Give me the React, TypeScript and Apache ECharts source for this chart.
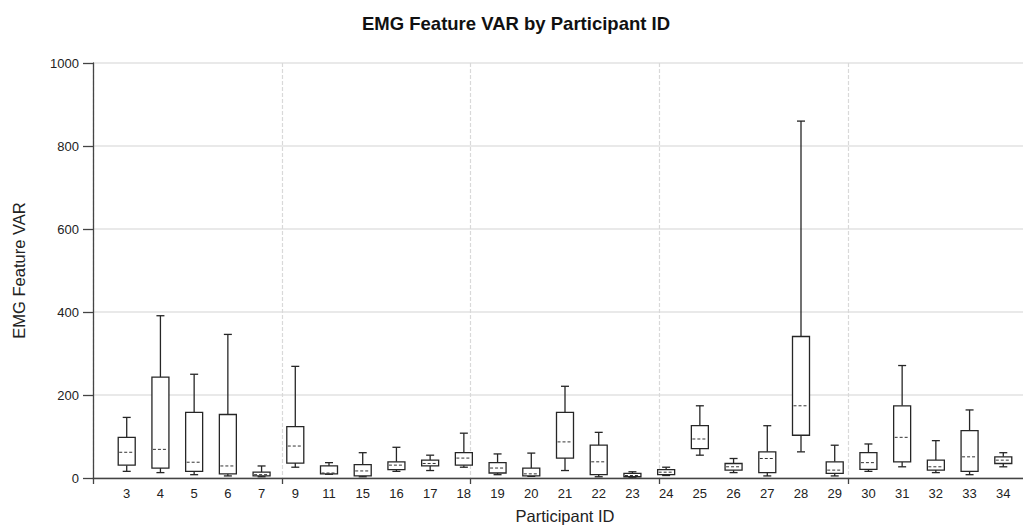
import React, { useEffect, useRef } from "react";
import * as echarts from "echarts";

const categories = ["3","4","5","6","7","9","11","15","16","17","18","19","20","21","22","23","24","25","26","27","28","29","30","31","32","33","34"];
const mins    = [16, 13,  8,   5,  3,  26,  9,  3, 16, 18, 26,  8,  4,  18,  3,  2,  6,  55, 13,   5,  63,  5, 16,  27, 13,   8, 27];
const q1s     = [31, 24, 16,  10,  5,  36, 10,  5, 20, 29, 31, 12,  5,  48,  8,  3,  8,  71, 19,  13, 103, 11, 21,  39, 19,  16, 35];
const medians = [62, 69, 38,  29,  8,  77, 12, 17, 31, 35, 48, 24, 10,  87, 39,  6, 14,  94, 27,  47, 174, 19, 37,  98, 27,  51, 43];
const q3s     = [98, 243, 158, 153, 14, 124, 29, 32, 39, 43, 61, 37, 24, 158, 79, 11, 20, 126, 35,  63, 341, 39, 61, 174, 43, 114, 51];
const maxs    = [146, 391, 250, 346, 29, 269, 37, 61, 74, 55, 108, 58, 60, 221, 110, 15, 26, 174, 47, 126, 860, 79, 82, 271, 90, 164, 61];
const yTicks = { min: 0, max: 1000, interval: 200 };
const titleText = "EMG Feature VAR by Participant ID";

export default function App() {
  const ref = useRef<HTMLDivElement>(null);
  useEffect(() => {
    if (!ref.current) return;
    const chart = echarts.init(ref.current, null, { renderer: "svg" });
    const axisCats = ["", ...categories, ""];
    const data = categories.map((_, i) => [i + 1, mins[i], q1s[i], medians[i], q3s[i], maxs[i]]);
    const stroke = "#262626";
    const font = "'Liberation Sans', Arial, sans-serif";
    chart.setOption({
      animation: false,
      backgroundColor: "#ffffff",
      graphic: [
        {
          type: "text",
          x: 516,
          y: 14,
          style: {
            text: titleText,
            fontFamily: font,
            fontSize: 18.5,
            fontWeight: "bold",
            fill: "#111",
            align: "center",
            verticalAlign: "top",
          },
        },
      ],
      grid: { left: 93, top: 63, right: 3, bottom: 45 },
      xAxis: [
        {
          type: "category",
          data: axisCats,
          boundaryGap: false,
          axisLine: { show: false },
          axisTick: { show: false },
          splitLine: { show: false },
          axisLabel: { interval: 0, margin: 9, fontFamily: font, fontSize: 13, color: "#222" },
          name: "Participant ID",
          nameLocation: "middle",
          nameGap: 29,
          nameTextStyle: { fontFamily: font, fontSize: 16.5, color: "#222" },
        },
        {
          type: "value",
          position: "bottom",
          min: 0,
          max: 28,
          interval: 5.6,
          axisLabel: { show: false },
          axisLine: { show: true, onZero: false, lineStyle: { color: "#444", width: 1.3 } },
          axisTick: { show: true, length: 6, lineStyle: { color: "#444", width: 1.3 } },
          splitLine: { show: true, lineStyle: { color: "#d9d9d9", type: [4, 2], width: 1.2 } },
        },
      ],
      yAxis: {
        type: "value",
        min: yTicks.min,
        max: yTicks.max,
        interval: yTicks.interval,
        axisLine: { show: true, lineStyle: { color: "#444", width: 1.3 } },
        axisTick: { show: true, length: 10, lineStyle: { color: "#444", width: 1.3 } },
        axisLabel: { margin: 14, fontFamily: font, fontSize: 13, color: "#222", formatter: (v: number) => String(v) },
        splitLine: { show: true, lineStyle: { color: "#e2e2e2", width: 1.6 } },
        name: "EMG Feature VAR",
        nameLocation: "middle",
        nameGap: 66,
        nameTextStyle: { fontFamily: font, fontSize: 16.5, color: "#222" },
      },
      series: [
        {
          type: "custom",
          xAxisIndex: 0,
          yAxisIndex: 0,
          data,
          encode: { x: 0, y: [1, 2, 3, 4, 5] },
          renderItem: (params: any, api: any) => {
            const x = api.value(0);
            const pMin = api.coord([x, api.value(1)]);
            const pQ1 = api.coord([x, api.value(2)]);
            const pMed = api.coord([x, api.value(3)]);
            const pQ3 = api.coord([x, api.value(4)]);
            const pMax = api.coord([x, api.value(5)]);
            const cx = pMin[0];
            const hw = 8.5;
            const cw = 4;
            const ls = { stroke, lineWidth: 1.3, fill: null };
            return {
              type: "group",
              children: [
                { type: "line", shape: { x1: cx, y1: pMax[1], x2: cx, y2: pQ3[1] }, style: ls },
                { type: "line", shape: { x1: cx, y1: pQ1[1], x2: cx, y2: pMin[1] }, style: ls },
                { type: "line", shape: { x1: cx - cw, y1: pMax[1], x2: cx + cw, y2: pMax[1] }, style: ls },
                { type: "line", shape: { x1: cx - cw, y1: pMin[1], x2: cx + cw, y2: pMin[1] }, style: ls },
                {
                  type: "rect",
                  shape: { x: cx - hw, y: pQ3[1], width: hw * 2, height: pQ1[1] - pQ3[1] },
                  style: { fill: "#ffffff", stroke, lineWidth: 1.3 },
                },
                {
                  type: "line",
                  shape: { x1: cx - hw + 1, y1: pMed[1], x2: cx + hw - 1, y2: pMed[1] },
                  style: { stroke: "#333", lineWidth: 1, lineDash: [3, 2] },
                },
              ],
            };
          },
        },
      ],
    });
    return () => chart.dispose();
  }, []);
  return (
    <div
      ref={ref}
      style={{ position: "fixed", left: 0, top: 0, width: 1040, height: 529, overflow: "hidden", background: "#fff" }}
    />
  );
}
